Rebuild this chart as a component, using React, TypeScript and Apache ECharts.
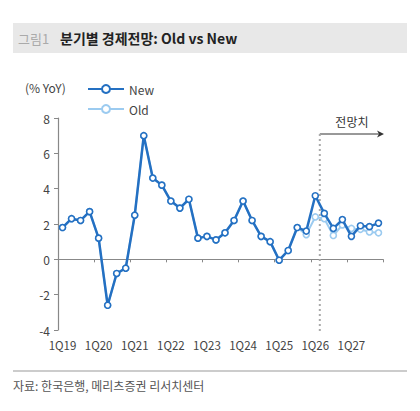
import React, { useEffect, useRef } from "react";
import * as echarts from "echarts";

const categories = [
  "1Q19", "2Q19", "3Q19", "4Q19",
  "1Q20", "2Q20", "3Q20", "4Q20",
  "1Q21", "2Q21", "3Q21", "4Q21",
  "1Q22", "2Q22", "3Q22", "4Q22",
  "1Q23", "2Q23", "3Q23", "4Q23",
  "1Q24", "2Q24", "3Q24", "4Q24",
  "1Q25", "2Q25", "3Q25", "4Q25",
  "1Q26", "2Q26", "3Q26", "4Q26",
  "1Q27", "2Q27", "3Q27", "4Q27",
];

const newValues = [
  1.8, 2.3, 2.2, 2.7,
  1.2, -2.6, -0.8, -0.5,
  2.5, 7.0, 4.6, 4.2,
  3.3, 2.9, 3.4, 1.2,
  1.3, 1.1, 1.5, 2.2,
  3.3, 2.2, 1.3, 1.0,
  -0.05, 0.5, 1.8, 1.6,
  3.6, 2.6, 1.75, 2.25,
  1.3, 1.9, 1.85, 2.05,
];

const oldValues = [
  1.8, 2.3, 2.2, 2.7,
  1.2, -2.6, -0.8, -0.5,
  2.5, 7.0, 4.6, 4.2,
  3.3, 2.9, 3.4, 1.2,
  1.3, 1.1, 1.5, 2.2,
  3.3, 2.2, 1.3, 1.0,
  -0.05, 0.5, 1.8, 1.4,
  2.4, 2.3, 1.35, 1.95,
  1.75, 1.7, 1.55, 1.5,
];

const yTicks = { min: -4, max: 8, interval: 2 };
const forecastStart = ["1Q26", "2Q26"];

const FONT = "'Noto Sans CJK KR', 'Noto Sans', sans-serif";
const NEW_COLOR = "#2470c2";
const OLD_COLOR = "#9ccbf0";

export default function App() {
  const ref = useRef<HTMLDivElement>(null);

  useEffect(() => {
    if (!ref.current) return;
    const chart = echarts.init(ref.current, undefined, { renderer: "svg" });
    const option: any = {
      animation: false,
      backgroundColor: "#ffffff",
      textStyle: { fontFamily: FONT },
      grid: { left: 58, right: 37, top: 118, bottom: 81 },
      legend: {
        orient: "vertical",
        left: 82,
        top: 78,
        itemWidth: 36,
        itemHeight: 10,
        itemGap: 8,
        textStyle: { fontFamily: FONT, fontSize: 12, color: "#444" },
        data: ["New", "Old"],
      },
      xAxis: [
        {
          type: "category",
          data: categories,
          boundaryGap: true,
          position: "bottom",
          axisLine: { show: false, onZero: false },
          axisTick: { show: false },
          axisLabel: {
            interval: 3,
            fontFamily: FONT,
            fontSize: 11.5,
            color: "#444",
            margin: 9,
          },
        },
        {
          type: "category",
          data: categories,
          boundaryGap: true,
          position: "bottom",
          axisLine: { show: true, onZero: true, lineStyle: { color: "#888", width: 1.2 } },
          axisTick: { show: true, interval: 3, length: 3, lineStyle: { color: "#888" } },
          axisLabel: { show: false },
        },
      ],
      yAxis: {
        type: "value",
        min: yTicks.min,
        max: yTicks.max,
        interval: yTicks.interval,
        axisLine: { show: true, lineStyle: { color: "#888", width: 1.2 } },
        axisTick: { show: true, length: 4, lineStyle: { color: "#888" } },
        splitLine: { show: false },
        axisLabel: { fontFamily: FONT, fontSize: 12, color: "#444", margin: 8 },
      },
      series: [
        {
          name: "Old",
          type: "line",
          data: oldValues,
          z: 2,
          symbol: "circle",
          symbolSize: 6,
          lineStyle: { color: OLD_COLOR, width: 2 },
          itemStyle: { color: "#ffffff", borderColor: OLD_COLOR, borderWidth: 1.6 },
        },
        {
          name: "New",
          type: "line",
          data: newValues,
          z: 3,
          symbol: "circle",
          symbolSize: 6,
          lineStyle: { color: NEW_COLOR, width: 2.5 },
          itemStyle: { color: "#ffffff", borderColor: NEW_COLOR, borderWidth: 1.6 },
        },
      ],
    };
    chart.setOption(option);

    const x1 = chart.convertToPixel({ xAxisIndex: 0 }, forecastStart[0]) as number;
    const x2 = chart.convertToPixel({ xAxisIndex: 0 }, forecastStart[1]) as number;
    const xl = (x1 + x2) / 2;
    const yBottom = (chart.convertToPixel({ yAxisIndex: 0 }, yTicks.min) as number) + 4;
    const yTop = 134;
    const xRight = 384;

    chart.setOption({
      graphic: [
        { type: "rect", shape: { x: 13, y: 23, width: 394, height: 30 }, style: { fill: "#e8e8e8" }, silent: true },
        { type: "text", x: 18, y: 38, style: { text: "그림1", fill: "#aaaaaa", font: `13px ${FONT}`, verticalAlign: "middle" } },
        { type: "text", x: 60, y: 38, style: { text: "분기별 경제전망: Old vs New", fill: "#222", font: `bold 14px ${FONT}`, verticalAlign: "middle" } },
        { type: "text", x: 25, y: 87, style: { text: "(% YoY)", fill: "#444", font: `12px ${FONT}`, verticalAlign: "middle" } },
        { type: "line", shape: { x1: xl, y1: yTop, x2: xl, y2: yBottom }, style: { stroke: "#aaaaaa", lineWidth: 2, lineDash: [2, 3] }, z: 1 },
        { type: "line", shape: { x1: xl, y1: yTop, x2: xRight - 2, y2: yTop }, style: { stroke: "#333", lineWidth: 1 } },
        { type: "polygon", shape: { points: [[xRight, yTop], [xRight - 7, yTop - 3.5], [xRight - 5, yTop], [xRight - 7, yTop + 3.5]] }, style: { fill: "#333" } },
        { type: "text", x: (xl + xRight) / 2, y: 121, style: { text: "전망치", fill: "#333", font: `12px ${FONT}`, align: "center", verticalAlign: "middle" } },
        { type: "line", shape: { x1: 13, y1: 371, x2: 407, y2: 371 }, style: { stroke: "#cccccc", lineWidth: 2 } },
        { type: "text", x: 13, y: 385, style: { text: "자료: 한국은행, 메리츠증권 리서치센터", fill: "#555", font: `12px ${FONT}`, verticalAlign: "middle" } },
      ],
    });

    return () => chart.dispose();
  }, []);

  return (
    <div
      ref={ref}
      style={{ position: "fixed", left: 0, top: 0, width: 420, height: 411, background: "#fff" }}
    />
  );
}
